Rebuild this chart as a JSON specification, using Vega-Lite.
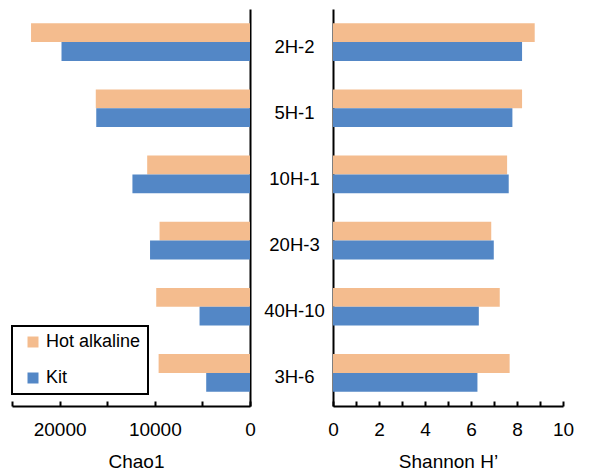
{
  "$schema": "https://vega.github.io/schema/vega-lite/v6.json",
  "background": "white",
  "padding": {"left": 11, "top": 9, "right": 5, "bottom": 5},
  "data": {"values": [
    {"sample": "2H-2", "method": "Hot alkaline", "chao1": 23000, "shannon": 8.77},
    {"sample": "2H-2", "method": "Kit", "chao1": 19800, "shannon": 8.22},
    {"sample": "5H-1", "method": "Hot alkaline", "chao1": 16200, "shannon": 8.22},
    {"sample": "5H-1", "method": "Kit", "chao1": 16150, "shannon": 7.80},
    {"sample": "10H-1", "method": "Hot alkaline", "chao1": 10800, "shannon": 7.57},
    {"sample": "10H-1", "method": "Kit", "chao1": 12350, "shannon": 7.64},
    {"sample": "20H-3", "method": "Hot alkaline", "chao1": 9500, "shannon": 6.88},
    {"sample": "20H-3", "method": "Kit", "chao1": 10500, "shannon": 6.99},
    {"sample": "40H-10", "method": "Hot alkaline", "chao1": 9850, "shannon": 7.25},
    {"sample": "40H-10", "method": "Kit", "chao1": 5300, "shannon": 6.34},
    {"sample": "3H-6", "method": "Hot alkaline", "chao1": 9600, "shannon": 7.68},
    {"sample": "3H-6", "method": "Kit", "chao1": 4600, "shannon": 6.28}
  ]},
  "config": {
    "font": "Liberation Sans",
    "view": {"stroke": null},
    "axis": {
      "grid": false,
      "domainColor": "black",
      "domainWidth": 2,
      "tickColor": "black",
      "tickWidth": 2,
      "labelColor": "black",
      "titleColor": "black",
      "labelFont": "Liberation Sans",
      "titleFont": "Liberation Sans",
      "titleFontWeight": "normal",
      "labelFontSize": 19,
      "titleFontSize": 19,
      "labelFlush": false
    },
    "legend": {"strokeColor": "black", "strokeWidth": 2}
  },
  "spacing": 83,
  "bounds": "flush",
  "resolve": {"legend": {"color": "independent"}},
  "hconcat": [
    {
      "width": 238,
      "height": 397,
      "mark": {"type": "bar"},
      "encoding": {
        "y": {
          "field": "sample", "type": "nominal",
          "sort": ["2H-2", "5H-1", "10H-1", "20H-3", "40H-10", "3H-6"],
          "scale": {"paddingInner": 0.43, "paddingOuter": 0.215},
          "axis": {"orient": "right", "labels": false, "ticks": false, "title": null}
        },
        "yOffset": {
          "field": "method", "type": "nominal",
          "sort": ["Hot alkaline", "Kit"],
          "scale": {"paddingInner": 0, "paddingOuter": 0}
        },
        "x": {
          "field": "chao1", "type": "quantitative",
          "scale": {"domain": [0, 25000], "reverse": true, "nice": false},
          "axis": {
            "values": [0, 5000, 10000, 15000, 20000, 25000],
            "format": "d",
            "labelExpr": "datum.value % 10000 === 0 ? datum.label : ''",
            "tickSize": -5,
            "labelPadding": 19,
            "titlePadding": 13,
            "titleX": 124,
            "title": "Chao1"
          }
        },
        "color": {
          "field": "method", "type": "nominal",
          "scale": {"domain": ["Hot alkaline", "Kit"], "range": ["#F4BC8E", "#5387C6"]},
          "legend": {
            "orient": "none", "legendX": 0, "legendY": 317,
            "title": null,
            "fillColor": "white",
            "padding": 7,
            "symbolOffset": 5,
            "symbolType": "square",
            "symbolSize": 121,
            "symbolStrokeWidth": 0,
            "labelFontSize": 18,
            "labelColor": "black",
            "labelOffset": 4,
            "rowPadding": 18
          }
        }
      }
    },
    {
      "width": 230,
      "height": 397,
      "mark": {"type": "bar"},
      "encoding": {
        "y": {
          "field": "sample", "type": "nominal",
          "sort": ["2H-2", "5H-1", "10H-1", "20H-3", "40H-10", "3H-6"],
          "scale": {"paddingInner": 0.43, "paddingOuter": 0.215},
          "axis": {"orient": "left", "ticks": false, "tickSize": 0, "labelAlign": "center", "labelBaseline": "middle", "labelPadding": 39, "labelOffset": 4.5, "labelFontSize": 18.5, "title": null}
        },
        "yOffset": {
          "field": "method", "type": "nominal",
          "sort": ["Hot alkaline", "Kit"],
          "scale": {"paddingInner": 0, "paddingOuter": 0}
        },
        "x": {
          "field": "shannon", "type": "quantitative",
          "scale": {"domain": [0, 10], "nice": false},
          "axis": {
            "values": [0, 1, 2, 3, 4, 5, 6, 7, 8, 9, 10],
            "labelExpr": "datum.value % 2 === 0 ? datum.label : ''",
            "tickSize": -5,
            "labelPadding": 19,
            "titlePadding": 13,
            "title": "Shannon H’"
          }
        },
        "color": {
          "field": "method", "type": "nominal",
          "scale": {"domain": ["Hot alkaline", "Kit"], "range": ["#F4BC8E", "#5387C6"]},
          "legend": null
        }
      }
    }
  ]
}
